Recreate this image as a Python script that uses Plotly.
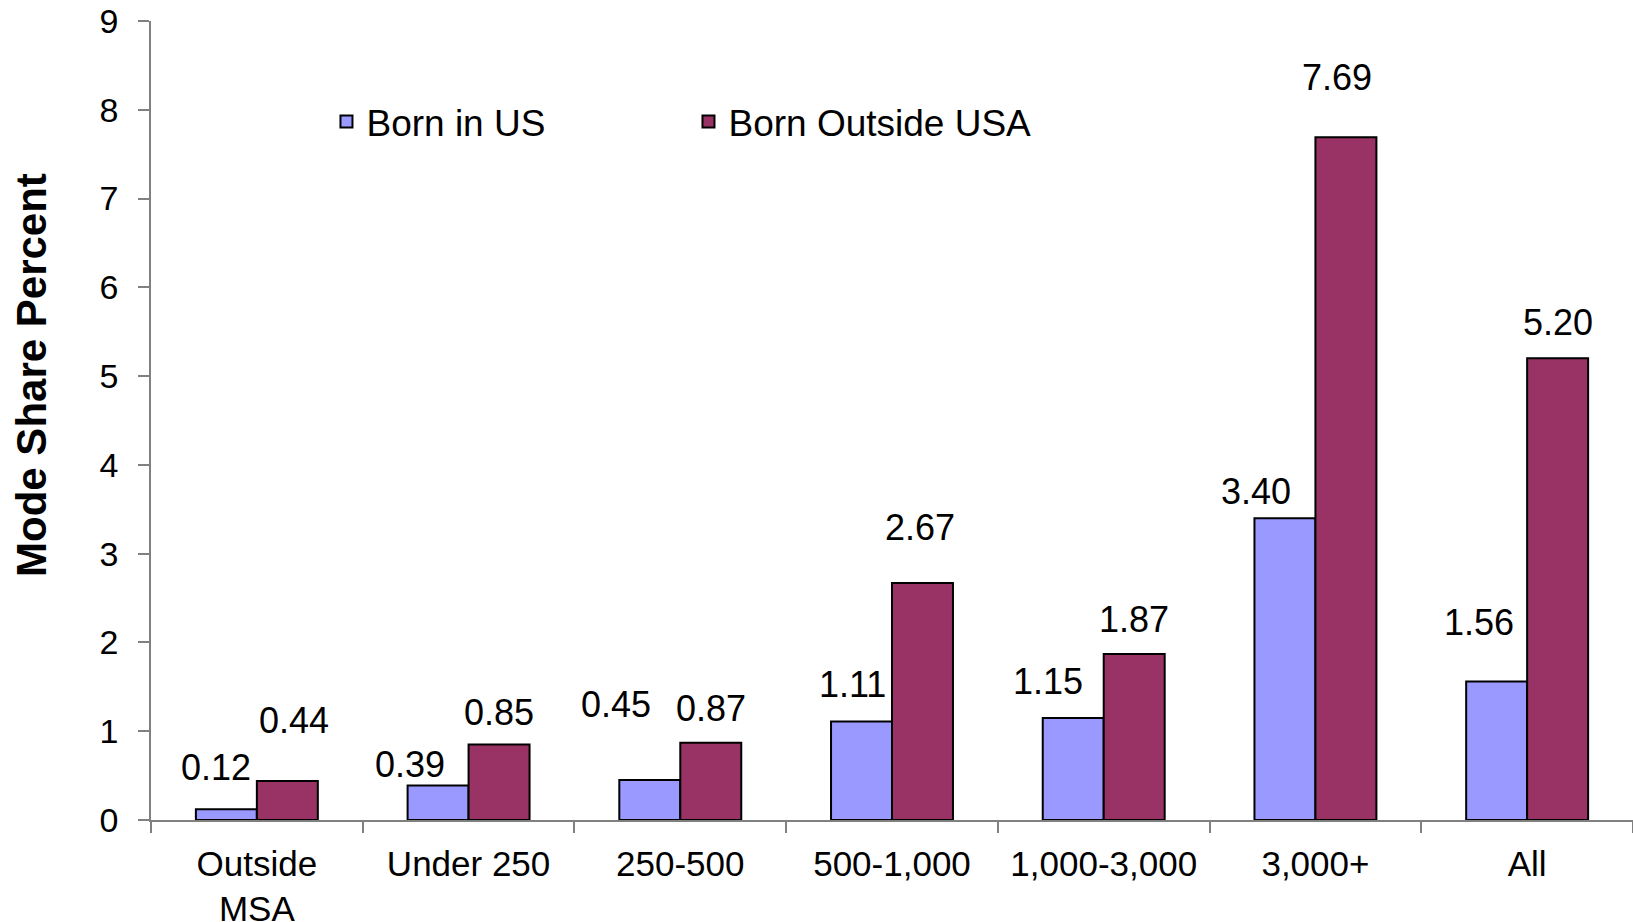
import plotly.graph_objects as go

categories = ["Outside<br>MSA", "Under 250", "250-500", "500-1,000", "1,000-3,000", "3,000+", "All"]
born_us = [0.12, 0.39, 0.45, 1.11, 1.15, 3.40, 1.56]
born_outside = [0.44, 0.85, 0.87, 2.67, 1.87, 7.69, 5.20]

# label nudges in px (the original chart has hand-placed labels)
us_dx = [-10, -28, -34, -9, -25, -29, -18]
us_gap = [26, 5, 60, 21, 21, 11, 44]
out_dx = [7, 0, 0, -3, 0, -9, 0]
out_gap = [45, 17, 19, 40, 19, 44, 20]

FONT = "Liberation Sans, Arial, sans-serif"
BLUE = "#9999FF"
PLUM = "#993366"
AXIS = "#808080"

fig = go.Figure()
fig.add_trace(go.Bar(x=categories, y=born_us, name="Born in US",
                     marker=dict(color=BLUE, line=dict(color="black", width=2))))
fig.add_trace(go.Bar(x=categories, y=born_outside, name="Born Outside USA",
                     marker=dict(color=PLUM, line=dict(color="black", width=2))))

half_bar = 30.5
for i, cat in enumerate(categories):
    fig.add_annotation(x=cat, y=born_us[i], text=f"{born_us[i]:.2f}", showarrow=False,
                       xshift=-half_bar + us_dx[i], yshift=us_gap[i] - 7, yanchor="bottom",
                       font=dict(size=36, color="black", family=FONT))
    fig.add_annotation(x=cat, y=born_outside[i], text=f"{born_outside[i]:.2f}", showarrow=False,
                       xshift=half_bar + out_dx[i], yshift=out_gap[i] - 7, yanchor="bottom",
                       font=dict(size=36, color="black", family=FONT))

# y axis title placed a bit above the axis centre, like the original
fig.add_annotation(text="<b>Mode Share Percent</b>", textangle=-90, showarrow=False,
                   xref="paper", yref="paper", x=-0.0803, y=0.557, xanchor="center", yanchor="middle",
                   font=dict(size=42, color="black", family=FONT))

fig.update_layout(
    width=1633, height=922,
    barmode="group", bargap=0.424, bargroupgap=0,
    plot_bgcolor="white", paper_bgcolor="white",
    margin=dict(l=151, r=0, t=21, b=102, autoexpand=False),
    font=dict(family=FONT, color="black"),
    showlegend=True,
    legend=dict(orientation="h", x=0.1184, xanchor="left", y=0.8736, yanchor="middle",
                font=dict(size=37, family=FONT), entrywidth=317, bgcolor="rgba(0,0,0,0)"),
)
fig.update_xaxes(type="category", showline=True, linecolor=AXIS, linewidth=1.5, automargin=False,
                 ticks="outside", tickson="boundaries", ticklen=11, tickcolor=AXIS, tickwidth=1.5,
                 tickfont=dict(size=35, family=FONT), ticklabelstandoff=12, showgrid=False)
fig.update_yaxes(range=[0, 9], dtick=1, showline=True, linecolor=AXIS, linewidth=1.5, automargin=False,
                 ticks="outside", ticklen=11, tickcolor=AXIS, tickwidth=1.5,
                 tickfont=dict(size=34, family=FONT), ticklabelstandoff=13,
                 showgrid=False, zeroline=False)

# drop the browser's default body margin so the figure fills the window exactly
fig.write_html("out.html", config={"displayModeBar": False},
               post_script="document.body.style.margin='0px';")
